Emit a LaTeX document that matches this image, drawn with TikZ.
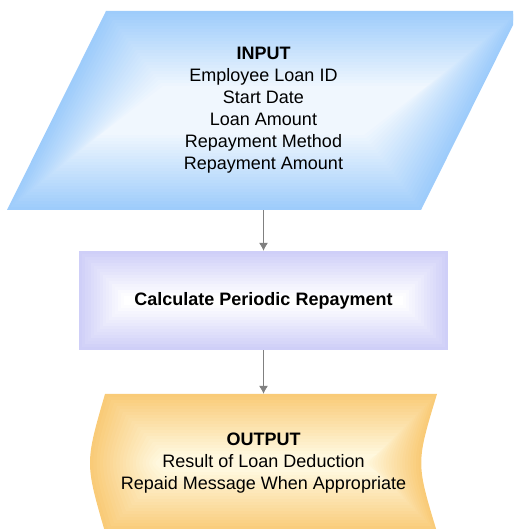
\documentclass[tikz,border=0pt]{standalone}
\usepackage{fontspec}
\setmainfont{Liberation Sans}
\usepackage{xcolor}
\usepackage{tikz}
\usetikzlibrary{arrows.meta, positioning}

\definecolor{inedge}{HTML}{9ECCFB}
\definecolor{incore}{HTML}{F0F7FE}
\definecolor{calcedge}{HTML}{CFCFF8}
\definecolor{calccore}{HTML}{FFFFFF}
\definecolor{outedge}{HTML}{F9CB78}
\definecolor{outcore}{HTML}{FFF8DE}

% shapes, drawn round their own centre
\newcommand{\inshape}[1]{\fill[#1] (-256.5,-99.5) -- (157.5,-99.5) -- (256.5,99.5) -- (-157.5,99.5) -- cycle;}
\newcommand{\calcshape}[1]{\fill[#1] (-184.5,-49.5) rectangle (184.5,49.5);}
\newcommand{\outshape}[1]{\fill[#1] (-166,69) -- (166,69) .. controls (145,0) .. (166,-69)
  -- (-166,-69) .. controls (-186,0) .. (-166,69) -- cycle;}

% nested copies, edge colour fading to the core colour
\newcommand{\layered}[7]{%
  \foreach \d in {0,3,...,#4}{
    \pgfmathsetmacro\sx{(#2-2*\d)/#2}
    \pgfmathsetmacro\sy{(#3-2*\d)/#3}
    \pgfmathtruncatemacro\pct{100-100*\d/#4}
    \begin{scope}[shift={#1}, xscale=\sx, yscale=\sy]
      #7{#5!\pct!#6}
    \end{scope}
  }%
}

\begin{document}
\begin{tikzpicture}[x=1pt, y=1pt,
    txt/.style={align=center, inner sep=0pt, font=\fontsize{18}{22}\selectfont},
    arr/.style={draw=gray, line width=0.8pt, -{Latex[length=8pt, width=9pt]}}]
    \clip (0,0) rectangle (513,529);

    \layered{(263.5,418.5)}{414}{199}{75}{inedge}{incore}{\inshape}
    \layered{(263.5,228.5)}{369}{99}{45}{calcedge}{calccore}{\calcshape}
    \layered{(271,66)}{332}{138}{60}{outedge}{outcore}{\outshape}

    \node[txt, minimum height=199pt] (inp) at (263.5,418.5)
        {\textbf{INPUT}\\Employee Loan ID\\Start Date\\Loan Amount\\Repayment Method\\Repayment Amount};
    \node[txt, minimum width=369pt, minimum height=99pt] (calc) at (263.5,228.5)
        {\textbf{Calculate Periodic Repayment}};
    \node[txt, minimum height=138pt] (outp) at (263.5,66)
        {\textbf{OUTPUT}\\Result of Loan Deduction\\Repaid Message When Appropriate};

    \draw[arr] (inp) -- (calc);
    \draw[arr] (calc) -- (outp);
\end{tikzpicture}
\end{document}
